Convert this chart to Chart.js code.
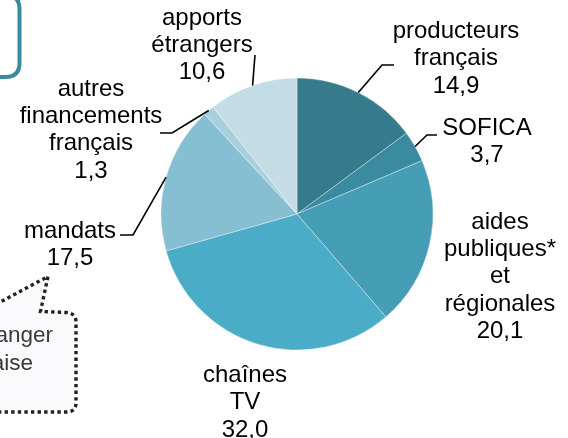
<!DOCTYPE html>
<html>
<head>
<meta charset="utf-8">
<script src="https://cdn.jsdelivr.net/npm/chart.js@4.4.1/dist/chart.umd.min.js"></script>
<style>
    html, body { margin: 0; padding: 0; background: #fff; }
    canvas { display: block; }
</style>
</head>
<body>
<canvas id="financeChart" width="568" height="438"></canvas>
<script>
// financement des films, parts en %
const categories = [
    ['producteurs', 'français'],
    ['SOFICA'],
    ['aides', 'publiques*', 'et', 'régionales'],
    ['chaînes', 'TV'],
    ['mandats'],
    ['autres', 'financements', 'français'],
    ['apports', 'étrangers']
];
const shares = [14.9, 3.7, 20.1, 32.0, 17.5, 1.3, 10.6];
const sliceColors = ['#357b8c', '#3a8ba0', '#459eb5', '#4aacc6', '#86bfd2', '#a8d0dc', '#c4dce6'];

// where each label sits and how its leader line bends (null = no leader)
const labelLayout = [
    { x: 456, y: 38, leader: [[382, 65], [394, 65]] },
    { x: 487, y: 135, leader: [[427, 135], [437, 135]] },
    { x: 500, y: 228.5, leader: null },
    { x: 245, y: 382, leader: null },
    { x: 70, y: 237.5, leader: [[133, 235], [120, 235]] },
    { x: 91, y: 95.5, leader: [[172, 133], [160, 133]] },
    { x: 202, y: 24.5, leader: [[255, 55]] }
];

const LABEL_FONT = '24px "Liberation Sans", Arial, sans-serif';
const LINE_H = 27.4;

const formatValue = (v) => v.toFixed(1).replace('.', ',');

function roundedRect(ctx, x, y, w, h, r) {
    ctx.beginPath();
    ctx.moveTo(x + r, y);
    ctx.lineTo(x + w - r, y);
    ctx.quadraticCurveTo(x + w, y, x + w, y + r);
    ctx.lineTo(x + w, y + h - r);
    ctx.quadraticCurveTo(x + w, y + h, x + w - r, y + h);
    ctx.lineTo(x + r, y + h);
    ctx.quadraticCurveTo(x, y + h, x, y + h - r);
    ctx.lineTo(x, y + r);
    ctx.quadraticCurveTo(x, y, x + r, y);
    ctx.closePath();
}

const decorations = {
    id: 'decorations',
    afterDraw(chart) {
        const ctx = chart.ctx;
        ctx.save();

        // cadre coupé en haut à gauche
        roundedRect(ctx, -60, -5, 79.5, 82, 14);
        ctx.lineWidth = 4;
        ctx.strokeStyle = '#3a8ba0';
        ctx.stroke();

        // bulle en pointillés en bas à gauche
        ctx.beginPath();
        ctx.moveTo(-10, 307.5);
        ctx.lineTo(48, 276.5);
        ctx.lineTo(40.5, 311.5);
        ctx.lineTo(66, 312.5);
        ctx.quadraticCurveTo(76, 313, 76, 322);
        ctx.lineTo(76, 403);
        ctx.quadraticCurveTo(76, 412, 66, 412);
        ctx.lineTo(-10, 412);
        ctx.closePath();
        ctx.fillStyle = '#fafafd';
        ctx.fill();
        ctx.setLineDash([3.4, 3.2]);
        ctx.lineWidth = 3.4;
        ctx.strokeStyle = '#222';
        ctx.stroke();
        ctx.setLineDash([]);

        ctx.fillStyle = '#3a3a3a';
        ctx.font = '22.5px "Liberation Sans", Arial, sans-serif';
        ctx.textAlign = 'right';
        ctx.textBaseline = 'alphabetic';
        ctx.fillText('étranger', 53, 342);
        ctx.fillText('française', 33, 370);

        // étiquettes et traits de rappel
        const meta = chart.getDatasetMeta(0);
        ctx.strokeStyle = '#000';
        ctx.lineWidth = 1.6;
        ctx.lineJoin = 'miter';
        meta.data.forEach((arc, i) => {
            const layout = labelLayout[i];
            if (layout.leader) {
                const mid = (arc.startAngle + arc.endAngle) / 2;
                ctx.beginPath();
                ctx.moveTo(arc.x + Math.cos(mid) * arc.outerRadius, arc.y + Math.sin(mid) * arc.outerRadius);
                layout.leader.forEach(([px, py]) => ctx.lineTo(px, py));
                ctx.stroke();
            }

            const lines = [...categories[i], formatValue(shares[i])];
            ctx.fillStyle = '#000';
            ctx.font = LABEL_FONT;
            ctx.textAlign = 'center';
            lines.forEach((text, k) => {
                ctx.fillText(text, layout.x, layout.y + k * LINE_H);
            });
        });

        ctx.restore();
    }
};

new Chart(document.getElementById('financeChart'), {
    type: 'pie',
    data: {
        labels: categories.map((c) => c.join(' ')),
        datasets: [{
            data: shares,
            backgroundColor: sliceColors,
            borderColor: 'rgba(255,255,255,0.35)',
            borderWidth: 1
        }]
    },
    options: {
        responsive: false,
        animation: false,
        devicePixelRatio: 1,
        layout: {
            padding: { left: 160.5, right: 134.5, top: 77.5, bottom: 87.5 }
        },
        plugins: {
            legend: { display: false },
            tooltip: { enabled: false }
        }
    },
    plugins: [decorations]
});
</script>
</body>
</html>
